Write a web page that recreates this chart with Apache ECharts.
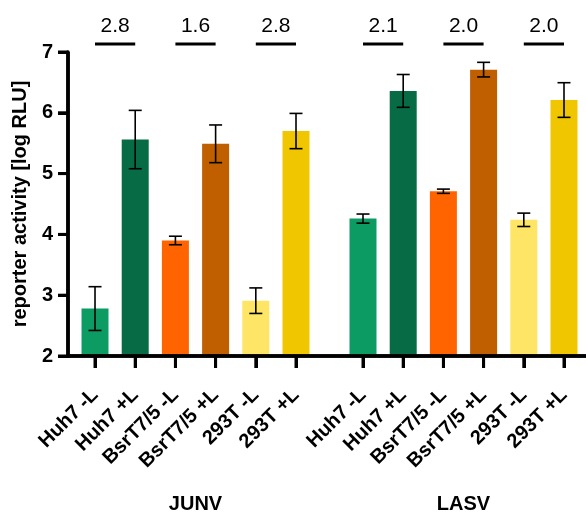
<!DOCTYPE html>
<html>
<head>
<meta charset="utf-8">
<script src="https://cdn.jsdelivr.net/npm/echarts@6/dist/echarts.min.js"></script>
<style>
    html, body { margin: 0; padding: 0; background: #fff; }
    #reporterChart { width: 586px; height: 514px; }
</style>
</head>
<body>
<div id="reporterChart"></div>
<script>
    // data
    const categories = ['Huh7 -L', 'Huh7 +L', 'BsrT7/5 -L', 'BsrT7/5 +L', '293T -L', '293T +L']
    const groups = ['JUNV', 'LASV']
    const junvMean = [2.78, 5.56, 3.90, 5.49, 2.91, 5.70]
    const junvErr = [0.36, 0.48, 0.07, 0.31, 0.21, 0.29]
    const lasvMean = [4.26, 6.36, 4.71, 6.71, 4.24, 6.21]
    const lasvErr = [0.075, 0.27, 0.035, 0.12, 0.11, 0.285]
    const junvFold = ['2.8', '1.6', '2.8']
    const lasvFold = ['2.1', '2.0', '2.0']
    const yMin = 2
    const yMax = 7

    const colors = ['#0B9B63', '#076B46', '#FF6400', '#C05F00', '#FFE565', '#F0C600']
    const groupStep = categories.length + 2 / 3
    const font = 'Liberation Sans'

    const means = [junvMean, lasvMean]
    const errs = [junvErr, lasvErr]
    const folds = [junvFold, lasvFold]

    let positions = []
    let labels = []
    let barData = []
    let errData = []
    let foldData = []
    groups.forEach((g, gi) => {
        categories.forEach((c, ci) => {
            const x = gi * groupStep + ci
            positions.push(x)
            labels.push(c)
            barData.push({ value: [x, means[gi][ci]], itemStyle: { color: colors[ci] } })
            errData.push([x, means[gi][ci] - errs[gi][ci], means[gi][ci] + errs[gi][ci]])
        })
        folds[gi].forEach((f, fi) => {
            const x0 = gi * groupStep + fi * 2
            foldData.push([x0, x0 + 1, f])
        })
    })
    const groupCenters = groups.map((g, gi) => gi * groupStep + (categories.length - 1) / 2)
    let yTicks = []
    for (let v = yMin; v <= yMax; v++) yTicks.push(v)

    const xMin = -0.672
    const xMax = 12.214

    const option = {
        animation: false,
        grid: { left: 68, right: 0, top: 52, bottom: 148 },
        xAxis: [
            {
                type: 'value',
                min: xMin,
                max: xMax,
                zlevel: 1,
                splitLine: { show: false },
                axisLine: { show: true, onZero: false, lineStyle: { color: '#000', width: 3.5 } },
                axisTick: { show: true, customValues: positions, length: 12, lineStyle: { color: '#000', width: 3 } },
                axisLabel: {
                    customValues: positions,
                    rotate: 45,
                    margin: 36,
                    color: '#000',
                    fontSize: 20,
                    fontWeight: 'bold',
                    fontFamily: font,
                    formatter: v => {
                        const i = positions.findIndex(p => Math.abs(p - v) < 1e-6)
                        return i >= 0 ? labels[i] : ''
                    }
                }
            },
            {
                type: 'value',
                min: xMin,
                max: xMax,
                position: 'bottom',
                offset: 130,
                splitLine: { show: false },
                axisLine: { show: false },
                axisTick: { show: false },
                axisLabel: {
                    customValues: groupCenters,
                    margin: 8,
                    color: '#000',
                    fontSize: 20,
                    fontWeight: 'bold',
                    fontFamily: font,
                    formatter: v => {
                        const i = groupCenters.findIndex(p => Math.abs(p - v) < 1e-6)
                        return i >= 0 ? groups[i] : ''
                    }
                }
            }
        ],
        yAxis: {
            type: 'value',
            min: yMin,
            max: yMax,
            interval: 1,
            zlevel: 1,
            name: 'reporter activity [log RLU]',
            nameLocation: 'middle',
            nameGap: 36,
            nameTextStyle: { color: '#000', fontSize: 20, fontWeight: 'bold', fontFamily: font },
            splitLine: { show: false },
            axisLine: { show: true, onZero: false, lineStyle: { color: '#000', width: 3.5 } },
            axisTick: { show: true, length: 10, lineStyle: { color: '#000', width: 3 } },
            axisLabel: { margin: 15, color: '#000', fontSize: 20, fontWeight: 'bold', fontFamily: font }
        },
        series: [
            {
                type: 'bar',
                xAxisIndex: 0,
                barWidth: 27,
                data: barData
            },
            {
                type: 'custom',
                xAxisIndex: 0,
                encode: { x: 0, y: [1, 2] },
                data: errData,
                z: 10,
                renderItem: (params, api) => {
                    const lo = api.coord([api.value(0), api.value(1)])
                    const hi = api.coord([api.value(0), api.value(2)])
                    const w = 6.5
                    return {
                        type: 'group',
                        children: [
                            { type: 'line', shape: { x1: lo[0], y1: lo[1], x2: hi[0], y2: hi[1] }, style: { stroke: '#000', lineWidth: 1.6 } },
                            { type: 'line', shape: { x1: lo[0] - w, y1: lo[1], x2: lo[0] + w, y2: lo[1] }, style: { stroke: '#000', lineWidth: 1.6 } },
                            { type: 'line', shape: { x1: hi[0] - w, y1: hi[1], x2: hi[0] + w, y2: hi[1] }, style: { stroke: '#000', lineWidth: 1.6 } }
                        ]
                    }
                }
            },
            {
                // axis frame and ticks on their own layer, through the same scales
                type: 'custom',
                xAxisIndex: 0,
                clip: false,
                silent: true,
                zlevel: 1,
                z: 20,
                encode: { x: 0, y: 1 },
                data: [[xMin, yMin]],
                renderItem: (params, api) => {
                    const o = api.coord([xMin, yMin])
                    const top = api.coord([xMin, yMax])
                    const r = api.coord([xMax, yMin])
                    let children = [
                        { type: 'line', shape: { x1: o[0], y1: o[1] + 1.75, x2: top[0], y2: top[1] }, style: { stroke: '#000', lineWidth: 3.5 } },
                        { type: 'line', shape: { x1: o[0] - 1.75, y1: o[1], x2: r[0], y2: r[1] }, style: { stroke: '#000', lineWidth: 3.5 } }
                    ]
                    positions.forEach(p => {
                        const c = api.coord([p, yMin])
                        children.push({ type: 'line', shape: { x1: c[0], y1: c[1], x2: c[0], y2: c[1] + 12 }, style: { stroke: '#000', lineWidth: 3 } })
                    })
                    yTicks.forEach(v => {
                        const c = api.coord([xMin, v])
                        children.push({ type: 'line', shape: { x1: c[0] - 10, y1: c[1], x2: c[0], y2: c[1] }, style: { stroke: '#000', lineWidth: 3 } })
                    })
                    return { type: 'group', children }
                }
            },
            {
                type: 'custom',
                xAxisIndex: 0,
                clip: false,
                encode: { x: [0, 1] },
                data: foldData,
                renderItem: (params, api) => {
                    const a = api.coord([api.value(0), yMax])
                    const b = api.coord([api.value(1), yMax])
                    const lineY = a[1] - 8
                    return {
                        type: 'group',
                        children: [
                            { type: 'line', shape: { x1: a[0], y1: lineY, x2: b[0], y2: lineY }, style: { stroke: '#000', lineWidth: 3 } },
                            {
                                type: 'text',
                                style: {
                                    text: foldData[params.dataIndex][2],
                                    x: (a[0] + b[0]) / 2,
                                    y: lineY - 18,
                                    align: 'center',
                                    verticalAlign: 'middle',
                                    fill: '#000',
                                    fontSize: 21,
                                    fontFamily: font
                                }
                            }
                        ]
                    }
                }
            }
        ]
    }

    const myChart = echarts.init(document.getElementById('reporterChart'))
    myChart.setOption(option)
</script>
</body>
</html>
